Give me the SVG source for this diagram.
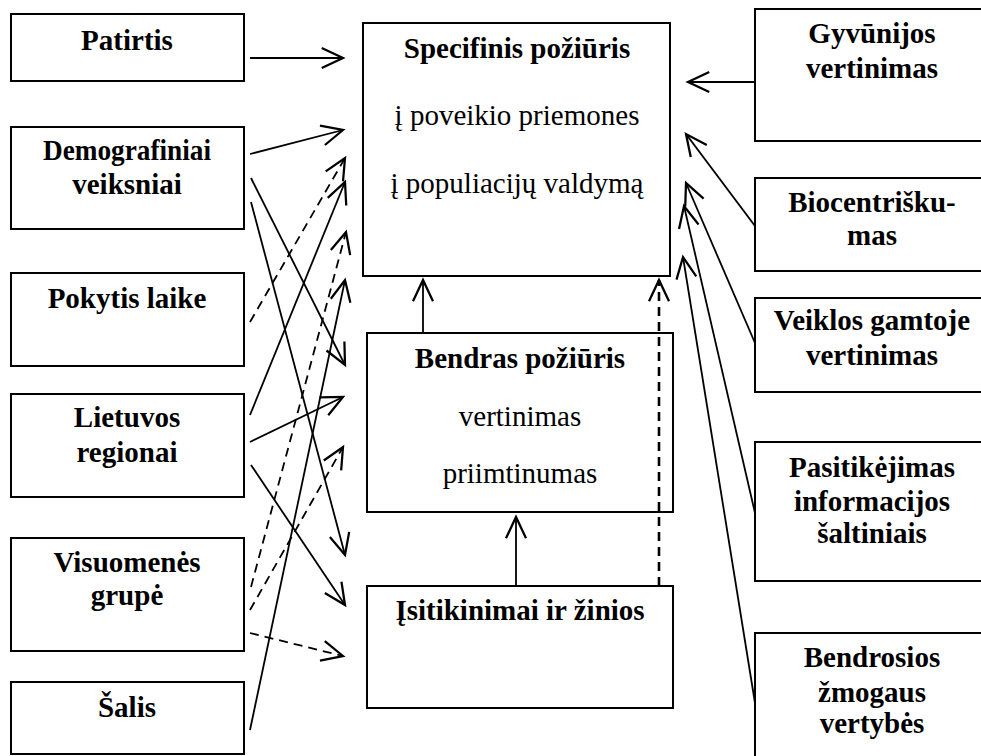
<svg xmlns="http://www.w3.org/2000/svg" width="981" height="756" viewBox="0 0 981 756" font-family="Liberation Serif, Times New Roman, serif">
<style>
.box{fill:#fff;stroke:#000;stroke-width:2}
.t{font-size:29px;fill:#000;text-anchor:middle}
.b{font-weight:bold}
.c{fill:none;stroke:#000;stroke-width:1.8}
.d{stroke-dasharray:9,6}
.dv{stroke-width:2.6}
</style>
<defs>
<marker id="ah" markerUnits="userSpaceOnUse" markerWidth="30" markerHeight="30" viewBox="-20 -12 24 24" refX="0" refY="0" orient="auto" overflow="visible">
<path d="M-17,-8 L0,0 L-17,8" fill="none" stroke="#000" stroke-width="1.8"/>
</marker>
</defs>
<rect width="981" height="756" fill="#fff"/>
<g id="patirtis"><rect class="box" x="11" y="14" width="233" height="67"/><text class="t b" font-family="Liberation Serif, serif" x="127" y="50">Patirtis</text></g>
<g id="demografiniai"><rect class="box" x="11" y="127" width="233" height="102"/><text class="t b" font-family="Liberation Serif, serif" x="127" y="160" textLength="168" lengthAdjust="spacingAndGlyphs">Demografiniai</text><text class="t b" font-family="Liberation Serif, serif" x="127" y="194">veiksniai</text></g>
<g id="pokytis"><rect class="box" x="11" y="273" width="233" height="93"/><text class="t b" font-family="Liberation Serif, serif" x="127" y="308">Pokytis laike</text></g>
<g id="lietuvos"><rect class="box" x="11" y="394" width="233" height="103"/><text class="t b" font-family="Liberation Serif, serif" x="127" y="427">Lietuvos</text><text class="t b" font-family="Liberation Serif, serif" x="127" y="462">regionai</text></g>
<g id="visuomenes"><rect class="box" x="11" y="538" width="233" height="113"/><text class="t b" font-family="Liberation Serif, serif" x="127" y="572">Visuomenės</text><text class="t b" font-family="Liberation Serif, serif" x="127" y="605">grupė</text></g>
<g id="salis"><rect class="box" x="11" y="682" width="233" height="72"/><text class="t b" font-family="Liberation Serif, serif" x="127" y="717">Šalis</text></g>
<g id="specifinis"><rect class="box" x="363" y="23" width="307" height="253"/><text class="t b" font-family="Liberation Serif, serif" x="517" y="58">Specifinis požiūris</text><text class="t" font-family="Liberation Serif, serif" x="517" y="125">į poveikio priemones</text><text class="t" font-family="Liberation Serif, serif" x="517" y="193">į populiacijų valdymą</text></g>
<g id="bendras"><rect class="box" x="367" y="333" width="306" height="179"/><text class="t b" font-family="Liberation Serif, serif" x="520" y="368">Bendras požiūris</text><text class="t" font-family="Liberation Serif, serif" x="520" y="426">vertinimas</text><text class="t" font-family="Liberation Serif, serif" x="520" y="483">priimtinumas</text></g>
<g id="isitikinimai"><rect class="box" x="367" y="586" width="306" height="122"/><text class="t b" font-family="Liberation Serif, serif" x="520" y="620">Įsitikinimai ir žinios</text></g>
<g id="gyvunijos"><rect class="box" x="755" y="9" width="235" height="132"/><text class="t b" font-family="Liberation Serif, serif" x="872" y="43">Gyvūnijos</text><text class="t b" font-family="Liberation Serif, serif" x="872" y="78">vertinimas</text></g>
<g id="biocentriskumas"><rect class="box" x="755" y="178" width="235" height="93"/><text class="t b" font-family="Liberation Serif, serif" x="872" y="212">Biocentrišku-</text><text class="t b" font-family="Liberation Serif, serif" x="872" y="245">mas</text></g>
<g id="veiklos"><rect class="box" x="755" y="298" width="235" height="94"/><text class="t b" font-family="Liberation Serif, serif" x="872" y="330">Veiklos gamtoje</text><text class="t b" font-family="Liberation Serif, serif" x="872" y="365">vertinimas</text></g>
<g id="pasitikejimas"><rect class="box" x="755" y="442" width="235" height="139"/><text class="t b" font-family="Liberation Serif, serif" x="872" y="477">Pasitikėjimas</text><text class="t b" font-family="Liberation Serif, serif" x="872" y="511">informacijos</text><text class="t b" font-family="Liberation Serif, serif" x="872" y="543">šaltiniais</text></g>
<g id="bendrosios"><rect class="box" x="755" y="633" width="235" height="140"/><text class="t b" font-family="Liberation Serif, serif" x="872" y="667">Bendrosios</text><text class="t b" font-family="Liberation Serif, serif" x="872" y="702">žmogaus</text><text class="t b" font-family="Liberation Serif, serif" x="872" y="733">vertybės</text></g>
<g id="connectors">
<line class="c" x1="250" y1="58" x2="343" y2="58" marker-end="url(#ah)"/>
<line class="c" x1="250" y1="154" x2="343" y2="130" marker-end="url(#ah)"/>
<line class="c" x1="251" y1="178" x2="345" y2="365" marker-end="url(#ah)"/>
<line class="c" x1="251" y1="202" x2="345" y2="555" marker-end="url(#ah)"/>
<line class="c d" x1="250" y1="322" x2="345" y2="158" marker-end="url(#ah)"/>
<line class="c" x1="250" y1="415" x2="345" y2="182" marker-end="url(#ah)"/>
<line class="c" x1="250" y1="442" x2="343" y2="397" marker-end="url(#ah)"/>
<line class="c" x1="251" y1="465" x2="345" y2="605" marker-end="url(#ah)"/>
<line class="c d" x1="251" y1="587" x2="346" y2="232" marker-end="url(#ah)"/>
<line class="c d" x1="250" y1="610" x2="343" y2="447" marker-end="url(#ah)"/>
<line class="c d" x1="250" y1="633" x2="343" y2="656" marker-end="url(#ah)"/>
<line class="c" x1="250" y1="730" x2="345" y2="280" marker-end="url(#ah)"/>
<line class="c" x1="423" y1="333" x2="423" y2="280" marker-end="url(#ah)"/>
<line class="c" x1="516" y1="586" x2="516" y2="517" marker-end="url(#ah)"/>
<line class="c d dv" x1="659" y1="586" x2="659" y2="280" marker-end="url(#ah)"/>
<line class="c" x1="755" y1="82" x2="688" y2="82" marker-end="url(#ah)"/>
<line class="c" x1="755" y1="226" x2="686" y2="134" marker-end="url(#ah)"/>
<line class="c" x1="755" y1="343" x2="686" y2="183" marker-end="url(#ah)"/>
<line class="c" x1="755" y1="513" x2="684" y2="206" marker-end="url(#ah)"/>
<line class="c" x1="755" y1="703" x2="683" y2="257" marker-end="url(#ah)"/>
</g>
</svg>
